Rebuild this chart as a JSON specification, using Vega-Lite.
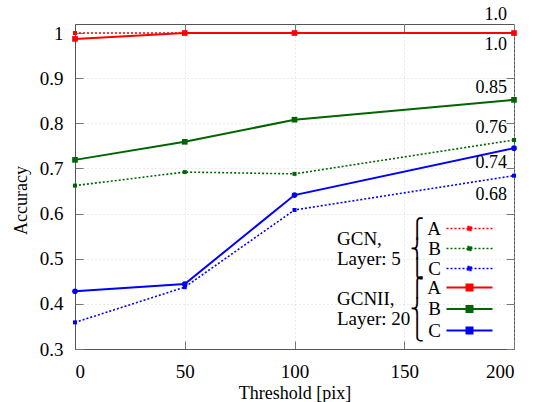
{
  "$schema": "https://vega.github.io/schema/vega-lite/v6.json",
  "width": 439,
  "height": 325,
  "autosize": {"type": "none"},
  "padding": {"left": 75, "top": 24, "right": 22, "bottom": 53},
  "background": "white",
  "config": {
    "font": "Liberation Serif",
    "view": {"stroke": "#555", "strokeWidth": 1},
    "axis": {
      "labelFont": "Liberation Serif",
      "labelFontSize": 19,
      "labelColor": "#000",
      "titleFont": "Liberation Serif",
      "titleFontSize": 18,
      "titleFontWeight": "normal",
      "titleColor": "#000",
      "domainColor": "#555",
      "tickColor": "#777",
      "tickSize": -8,
      "tickWidth": 1,
      "gridColor": "#ccc",
      "gridDash": [1, 3],
      "gridWidth": 0.8
    },
    "legend": {
      "titleFont": "Liberation Serif",
      "titleFontSize": 19,
      "titleFontWeight": "normal",
      "titleColor": "#000",
      "titleLineHeight": 20,
      "labelFont": "Liberation Serif",
      "labelFontSize": 19,
      "labelColor": "#000"
    }
  },
  "datasets": {
    "gcn": [
      {"gcn_series": "A", "threshold": 0, "accuracy": 1.0},
      {"gcn_series": "A", "threshold": 50, "accuracy": 1.0},
      {"gcn_series": "A", "threshold": 100, "accuracy": 1.0},
      {"gcn_series": "A", "threshold": 200, "accuracy": 1.0},
      {"gcn_series": "B", "threshold": 0, "accuracy": 0.662},
      {"gcn_series": "B", "threshold": 50, "accuracy": 0.692},
      {"gcn_series": "B", "threshold": 100, "accuracy": 0.688},
      {"gcn_series": "B", "threshold": 200, "accuracy": 0.763},
      {"gcn_series": "C", "threshold": 0, "accuracy": 0.359},
      {"gcn_series": "C", "threshold": 50, "accuracy": 0.437},
      {"gcn_series": "C", "threshold": 100, "accuracy": 0.608},
      {"gcn_series": "C", "threshold": 200, "accuracy": 0.684}
    ],
    "gcnii": [
      {"gcnii_series": "A", "threshold": 0, "accuracy": 0.987},
      {"gcnii_series": "A", "threshold": 50, "accuracy": 1.0},
      {"gcnii_series": "A", "threshold": 100, "accuracy": 1.0},
      {"gcnii_series": "A", "threshold": 200, "accuracy": 1.0},
      {"gcnii_series": "B", "threshold": 0, "accuracy": 0.719},
      {"gcnii_series": "B", "threshold": 50, "accuracy": 0.759},
      {"gcnii_series": "B", "threshold": 100, "accuracy": 0.808},
      {"gcnii_series": "B", "threshold": 200, "accuracy": 0.852},
      {"gcnii_series": "C", "threshold": 0, "accuracy": 0.428},
      {"gcnii_series": "C", "threshold": 50, "accuracy": 0.444},
      {"gcnii_series": "C", "threshold": 100, "accuracy": 0.641},
      {"gcnii_series": "C", "threshold": 200, "accuracy": 0.745}
    ]
  },
  "layer": [
    {
      "data": {"name": "gcn"},
      "mark": {"type": "line", "strokeDash": [2, 2], "strokeWidth": 1.6},
      "encoding": {
        "x": {"field": "threshold", "type": "quantitative",
              "scale": {"domain": [0, 200], "nice": false},
              "axis": {"orient": "bottom", "values": [0, 50, 100, 150, 200], "title": "Threshold [pix]", "labelFont": "Liberation Serif", "titleFont": "Liberation Serif", "labelPadding": 21, "titleY": 44, "titleBaseline": "middle", "grid": true}},
        "y": {"field": "accuracy", "type": "quantitative",
              "scale": {"domain": [0.3, 1.02], "nice": false, "zero": false},
              "axis": {"orient": "left", "values": [0.3, 0.4, 0.5, 0.6, 0.7, 0.8, 0.9, 1.0], "format": ".1~f", "title": "Accuracy", "labelFont": "Liberation Serif", "titleFont": "Liberation Serif", "labelPadding": 20, "titleX": -54, "titleY": 176, "titleBaseline": "middle", "grid": true}},
        "color": {"field": "gcn_series", "type": "nominal",
                  "scale": {"range": ["#ff0000", "#006400", "#0000ff"]},
                  "legend": {
                    "title": ["GCN,", "Layer: 5"],
                    "titleOrient": "left",
                    "titleAnchor": "middle",
                    "titlePadding": 59,
                    "orient": "none",
                    "legendX": 262,
                    "legendY": 195,
                    "symbolType": "M-4.6,0H4.6M-0.4,-0.4H0.4V0.4H-0.4Z",
                    "symbolSize": 100,
                    "symbolStrokeWidth": 1.6,
                    "symbolDash": [2, 2],
                    "labelAlign": "right",
                    "labelOffset": -38,
                    "rowPadding": -1,
                    "labelExpr": "datum.label == 'A' ? '⎧ A' : datum.label == 'B' ? '⎨ B' : '⎩ C'",
                    "encode": {"symbols": {"update": {"fill": {"scale": "color", "field": "value"}}}}
                  }}
      }
    },
    {
      "data": {"name": "gcnii"},
      "mark": {"type": "line", "strokeWidth": 2},
      "encoding": {
        "x": {"field": "threshold", "type": "quantitative",
              "axis": {"orient": "top", "values": [0, 50, 100, 150, 200], "labels": false, "title": null, "grid": false, "domain": false}},
        "y": {"field": "accuracy", "type": "quantitative",
              "axis": {"orient": "right", "values": [0.3, 0.4, 0.5, 0.6, 0.7, 0.8, 0.9, 1.0], "labels": false, "title": null, "grid": false, "domain": false}},
        "stroke": {"field": "gcnii_series", "type": "nominal",
                   "scale": {"range": ["#ff0000", "#006400", "#0000ff"]},
                   "legend": {
                     "title": ["GCNII,", "Layer: 20"],
                     "titleOrient": "left",
                     "titleAnchor": "middle",
                     "titlePadding": 49,
                     "orient": "none",
                     "legendX": 262,
                     "legendY": 254,
                     "symbolType": "M-4.6,0H4.6M-0.6,-0.6H0.6V0.6H-0.6Z",
                     "symbolSize": 100,
                     "symbolStrokeWidth": 2,
                     "labelAlign": "right",
                     "labelOffset": -38,
                     "rowPadding": 1.5,
                     "labelExpr": "datum.label == 'A' ? '⎧ A' : datum.label == 'B' ? '⎨ B' : '⎩ C'",
                     "encode": {"symbols": {"update": {"fill": {"scale": "stroke", "field": "value"}}}}
                   }}
      }
    },
    {
      "data": {"name": "gcn"},
      "mark": {"type": "square", "size": 16, "filled": true, "opacity": 1},
      "encoding": {
        "x": {"field": "threshold", "type": "quantitative", "axis": null},
        "y": {"field": "accuracy", "type": "quantitative", "axis": null},
        "color": {"field": "gcn_series", "type": "nominal", "legend": null}
      }
    },
    {
      "data": {"name": "gcnii"},
      "mark": {"type": "point", "size": 32, "filled": true, "opacity": 1},
      "encoding": {
        "x": {"field": "threshold", "type": "quantitative", "axis": null},
        "y": {"field": "accuracy", "type": "quantitative", "axis": null},
        "fill": {"field": "gcnii_series", "type": "nominal",
                 "scale": {"range": ["#ff0000", "#006400", "#0000ff"]}, "legend": null},
        "shape": {"field": "gcnii_series", "type": "nominal",
                  "scale": {"range": ["square", "square", "circle"]},
                  "legend": null}
      }
    },
    {
      "data": {"values": [{"v": 1.0, "t": "1.0"}]},
      "mark": {"type": "text", "align": "right", "baseline": "middle", "dx": -7, "dy": -18, "fontSize": 18, "font": "Liberation Serif", "color": "#000"},
      "encoding": {
        "x": {"datum": 200, "type": "quantitative", "axis": null},
        "y": {"field": "v", "type": "quantitative", "axis": null},
        "text": {"field": "t"}
      }
    },
    {
      "data": {"values": [{"v": 1.0, "t": "1.0"}]},
      "mark": {"type": "text", "align": "right", "baseline": "middle", "dx": -7, "dy": 12, "fontSize": 18, "font": "Liberation Serif", "color": "#000"},
      "encoding": {
        "x": {"datum": 200, "type": "quantitative", "axis": null},
        "y": {"field": "v", "type": "quantitative", "axis": null},
        "text": {"field": "t"}
      }
    },
    {
      "data": {"values": [{"v": 0.852, "t": "0.85"}, {"v": 0.763, "t": "0.76"}]},
      "mark": {"type": "text", "align": "right", "baseline": "middle", "dx": -7, "dy": -12, "fontSize": 18, "font": "Liberation Serif", "color": "#000"},
      "encoding": {
        "x": {"datum": 200, "type": "quantitative", "axis": null},
        "y": {"field": "v", "type": "quantitative", "axis": null},
        "text": {"field": "t"}
      }
    },
    {
      "data": {"values": [{"v": 0.745, "t": "0.74"}]},
      "mark": {"type": "text", "align": "right", "baseline": "middle", "dx": -7, "dy": 15, "fontSize": 18, "font": "Liberation Serif", "color": "#000"},
      "encoding": {
        "x": {"datum": 200, "type": "quantitative", "axis": null},
        "y": {"field": "v", "type": "quantitative", "axis": null},
        "text": {"field": "t"}
      }
    },
    {
      "data": {"values": [{"v": 0.684, "t": "0.68"}]},
      "mark": {"type": "text", "align": "right", "baseline": "middle", "dx": -7, "dy": 19, "fontSize": 18, "font": "Liberation Serif", "color": "#000"},
      "encoding": {
        "x": {"datum": 200, "type": "quantitative", "axis": null},
        "y": {"field": "v", "type": "quantitative", "axis": null},
        "text": {"field": "t"}
      }
    }
  ],
  "resolve": {"axis": {"x": "independent", "y": "independent"}}
}
